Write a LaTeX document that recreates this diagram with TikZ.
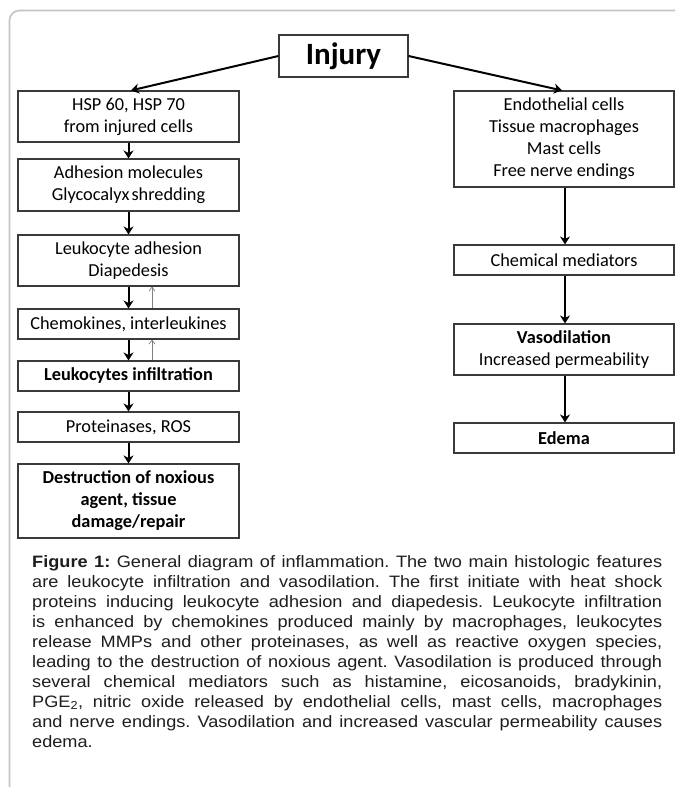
\documentclass[tikz,border=0pt]{standalone}
\usepackage{fontspec}
\setmainfont{Carlito}
\newfontfamily\capfont[FakeStretch=1.1]{Liberation Sans}
\usetikzlibrary{arrows.meta}
\definecolor{boxline}{HTML}{3A3A3A}
\definecolor{framecol}{HTML}{C4C4C4}
\definecolor{captext}{HTML}{1E1E1E}
\begin{document}
\frenchspacing
\begin{tikzpicture}[x=1pt,y=-1pt,
  box/.style={draw=boxline, line width=1.1pt, fill=white, inner sep=0pt, align=center,
    text=black, font=\fontsize{18.3}{22}\selectfont},
  arr/.style={draw=black, line width=2pt, -{Stealth[length=8pt,width=10pt,inset=2.5pt]}},
  thinarr/.style={draw=gray, line width=0.7pt, -{Straight Barb[length=4pt,width=6pt]}}
]
\useasboundingbox (0,0) rectangle (675,787);
\fill[white] (0,0) rectangle (675,787);
% frame
\draw[framecol, line width=1.6pt, rounded corners=10pt] (9.5,787) -- (9.5,10.5) -- (675,10.5);

% nodes
\node[box, minimum width=129pt, minimum height=42pt, font=\fontsize{31}{34}\selectfont\bfseries] (injury) at (343.5,56) {Injury};

\node[box, minimum width=221pt, minimum height=51pt] (hsp) at (128.5,116.5) {HSP 60, HSP 70\\from injured cells};
\node[box, minimum width=221pt, minimum height=52pt] (adh) at (128.5,185) {Adhesion molecules\\Glycocalyx\hspace{2pt}shredding};
\node[box, minimum width=221pt, minimum height=51pt] (leukadh) at (128.5,260.5) {Leukocyte adhesion\\Diapedesis};
\node[box, minimum width=221pt, minimum height=30pt] (chemo) at (128.5,324) {Chemokines, interleukines};
\node[box, minimum width=221pt, minimum height=30pt] (infil) at (128.5,376) {\bfseries Leukocytes infiltration};
\node[box, minimum width=221pt, minimum height=30pt] (prot) at (128.5,427) {Proteinases, ROS};
\node[box, minimum width=221pt, minimum height=74pt] (destr) at (128.5,501) {\bfseries Destruction of noxious\\\bfseries agent, tissue\\\bfseries damage/repair};

\node[box, minimum width=220pt, minimum height=96pt] (endo) at (564,139) {Endothelial cells\\Tissue macrophages\\Mast cells\\Free nerve endings};
\node[box, minimum width=220pt, minimum height=30pt] (chem) at (564,260) {Chemical mediators};
\node[box, minimum width=220pt, minimum height=51pt] (vaso) at (564,349.5) {\bfseries Vasodilation\\Increased permeability};
\node[box, minimum width=220pt, minimum height=30pt] (edema) at (564,438) {\bfseries Edema};

% connectors
\draw[arr] (injury.west) -- ([xshift=2.5pt]hsp.north);
\draw[arr] (injury.east) -- ([xshift=-2pt]endo.north);

\draw[arr] (hsp) -- (adh);
\draw[arr] (adh) -- (leukadh);
\draw[arr] (leukadh) -- (chemo);
\draw[arr] (chemo) -- (infil);
\draw[arr] (infil) -- (prot);
\draw[arr] (prot) -- (destr);

\draw[thinarr] ([xshift=23.5pt]chemo.north) -- ([xshift=23.5pt]leukadh.south);
\draw[thinarr] ([xshift=23.5pt]infil.north) -- ([xshift=23.5pt]chemo.south);

\draw[arr] ([xshift=1pt]endo.south) -- ([xshift=1pt]chem.north);
\draw[arr] ([xshift=1pt]chem.south) -- ([xshift=1pt]vaso.north);
\draw[arr] ([xshift=1pt]vaso.south) -- ([xshift=1pt]edema.north);

% caption
\node[anchor=north west, inner sep=0pt, text width=630pt, align=justify, text=captext,
  font=\capfont\fontsize{16.5}{20}\selectfont] (caption) at (32,555) {%
\textbf{Figure 1:} General diagram of inflammation. The two main histologic features\linebreak
are leukocyte infiltration and vasodilation. The first initiate with heat shock\linebreak
proteins inducing leukocyte adhesion and diapedesis. Leukocyte infiltration\linebreak
is enhanced by chemokines produced mainly by macrophages, leukocytes\linebreak
release MMPs and other proteinases, as well as reactive oxygen species,\linebreak
leading to the destruction of noxious agent. Vasodilation is produced through\linebreak
several chemical mediators such as histamine, eicosanoids, bradykinin,\linebreak
PGE\textsubscript{2}, nitric oxide released by endothelial cells, mast cells, macrophages\linebreak
and nerve endings. Vasodilation and increased vascular permeability causes\linebreak
edema.};
\end{tikzpicture}
\end{document}
